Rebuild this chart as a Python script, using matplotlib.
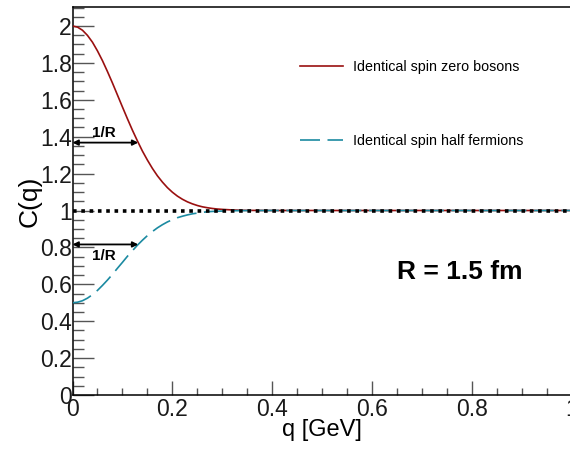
import matplotlib
matplotlib.use("Agg")
import matplotlib.pyplot as plt

plt.rcParams['font.family'] = ['Liberation Sans', 'DejaVu Sans']

# q values [GeV]
q = [0.00, 0.01, 0.02, 0.03, 0.04, 0.05, 0.06, 0.07, 0.08, 0.09,
     0.10, 0.11, 0.12, 0.13, 0.14, 0.15, 0.16, 0.17, 0.18, 0.19,
     0.20, 0.21, 0.22, 0.23, 0.24, 0.25, 0.26, 0.27, 0.28, 0.29,
     0.30, 0.32, 0.34, 0.36, 0.40, 0.50, 0.60, 0.70, 0.80, 0.90, 1.00]
# Identical spin zero bosons
c_bosons = [2.000, 1.994, 1.977, 1.949, 1.912, 1.865, 1.812, 1.753, 1.691, 1.626,
            1.561, 1.497, 1.435, 1.377, 1.322, 1.273, 1.228, 1.188, 1.154, 1.124,
            1.099, 1.078, 1.061, 1.047, 1.036, 1.027, 1.020, 1.015, 1.011, 1.008,
            1.006, 1.003, 1.001, 1.0005, 1.000, 1.000, 1.000, 1.000, 1.000, 1.000, 1.000]
# Identical spin half fermions
c_fermions = [0.500, 0.503, 0.511, 0.525, 0.544, 0.567, 0.594, 0.623, 0.654, 0.687,
              0.719, 0.752, 0.782, 0.812, 0.839, 0.864, 0.886, 0.906, 0.923, 0.938,
              0.950, 0.961, 0.969, 0.976, 0.982, 0.986, 0.990, 0.993, 0.995, 0.996,
              0.997, 0.9987, 0.9994, 0.9998, 1.000, 1.000, 1.000, 1.000, 1.000, 1.000, 1.000]
ref_q = [0.0, 1.0]
ref_c = [1.0, 1.0]
inv_R = 0.1316
arrow_y = [1.368, 0.816]
labels = ["Identical spin zero bosons", "Identical spin half fermions"]
x_ticks = [0, 0.2, 0.4, 0.6, 0.8, 1.0]
x_ticklabels = ["0", "0.2", "0.4", "0.6", "0.8", "1"]
y_ticks = [0, 0.2, 0.4, 0.6, 0.8, 1.0, 1.2, 1.4, 1.6, 1.8, 2.0]
y_ticklabels = ["0", "0.2", "0.4", "0.6", "0.8", "1", "1.2", "1.4", "1.6", "1.8", "2"]

W, H = 570, 449
fig = plt.figure(figsize=(W / 100, H / 100), dpi=100)
left_px, right_px, top_px, bottom_px = 72.5, 572, 7, 395
ax = fig.add_axes([left_px / W, (H - bottom_px) / H,
                   (right_px - left_px) / W, (bottom_px - top_px) / H])

red = '#9a1010'
teal = '#1b8aa1'
ax.plot(q, c_bosons, color=red, lw=1.2, label=labels[0], zorder=3)
ax.plot(q, c_fermions, color=teal, lw=1.2, linestyle=(0, (12, 4.5)), label=labels[1], zorder=3)
ax.plot(ref_q, ref_c, color='black', lw=2.6, linestyle=(0, (1.0, 1.3)),
        dash_capstyle='butt', zorder=4)

ax.set_xlim(0, 1.0)
ax.set_ylim(0, 2.103)

for yv in arrow_y:
    ax.annotate('', xy=(0, yv), xytext=(inv_R, yv),
                arrowprops=dict(arrowstyle='<|-|>', color='black', lw=1.3,
                                mutation_scale=8, shrinkA=0, shrinkB=0), zorder=5)
ax.text(0.063, 1.42, '1/R', fontsize=11, fontweight='bold',
        ha='center', va='center')
ax.text(0.063, 0.753, '1/R', fontsize=11, fontweight='bold',
        ha='center', va='center')
ax.text(0.776, 0.667, 'R = 1.5 fm', fontsize=19, fontweight='bold',
        ha='center', va='center')

ax.set_xticks(x_ticks)
ax.set_xticklabels(x_ticklabels)
ax.set_yticks(y_ticks)
ax.set_yticklabels(y_ticklabels)
ax.set_xticks([i * 0.05 for i in range(21)], minor=True)
ax.set_yticks([i * 0.05 for i in range(43)], minor=True)
ax.tick_params(axis='both', which='both', direction='in', colors='#555555',
               labelcolor='#1a1a1a', labelsize=16.5)
ax.tick_params(axis='y', which='major', length=15, pad=0.5, width=1)
ax.tick_params(axis='y', which='minor', length=8, width=1)
ax.tick_params(axis='x', which='major', length=10, pad=2.5, width=1)
ax.tick_params(axis='x', which='minor', length=5, width=1)
for s in ax.spines.values():
    s.set_linewidth(1.1)
    s.set_color('black')

ax.set_xlabel('q [GeV]', fontsize=17, labelpad=-2)
ax.set_ylabel('C(q)', fontsize=19, labelpad=-1)

leg = ax.legend(loc='upper left', bbox_to_anchor=(300 / W, (H - 60) / H),
                bbox_transform=fig.transFigure, frameon=False, fontsize=10.3,
                handlelength=3.0, handletextpad=0.7, labelspacing=4.2,
                borderpad=0, borderaxespad=0)

fig.savefig('out.png', dpi=100)
